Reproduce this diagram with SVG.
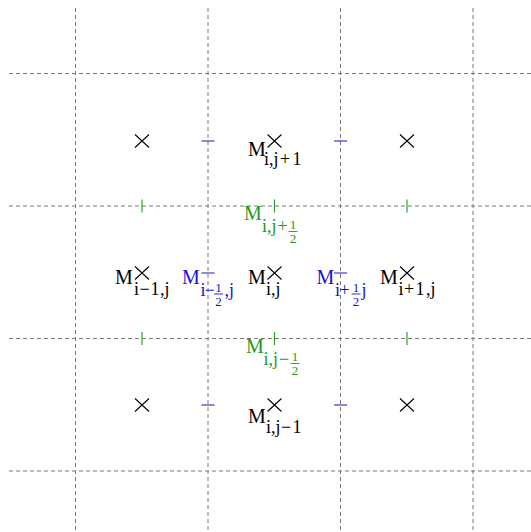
<svg xmlns="http://www.w3.org/2000/svg" width="531" height="532" viewBox="0 0 531 532">
<style>
.grid{stroke:#7a7a7a;stroke-width:1;stroke-dasharray:4 3;fill:none}
.cross{stroke:#000;stroke-width:1.1;fill:none}
.bt{stroke:#1515d0;stroke-width:1.1}
.gt{stroke:#229a22;stroke-width:1.1}
text{font-family:"Liberation Serif","Times New Roman",serif}
.m{font-size:20px}
.s{font-size:18px}
.f{font-size:13px;text-anchor:middle}
.k{fill:#000}
.b{fill:#1515d0}
.g{fill:#229a22}
.fb{stroke-width:0.9}
</style>
<rect width="531" height="532" fill="#fff"/>
<g id="connectors">
<g id="grid">
<line class="grid" x1="75.5" y1="8" x2="75.5" y2="532"/>
<line class="grid" x1="208" y1="8" x2="208" y2="532"/>
<line class="grid" x1="340.5" y1="8" x2="340.5" y2="532"/>
<line class="grid" x1="473" y1="8" x2="473" y2="532"/>
<line class="grid" x1="9" y1="73.5" x2="531" y2="73.5"/>
<line class="grid" x1="9" y1="206" x2="531" y2="206"/>
<line class="grid" x1="9" y1="338.5" x2="531" y2="338.5"/>
<line class="grid" x1="9" y1="471" x2="531" y2="471"/>
</g>
</g>
<g id="crosses">
<path class="cross" d="M135 134.5l14 13M149 134.5l-14 13"/>
<path class="cross" d="M267.5 134.5l14 13M281.5 134.5l-14 13"/>
<path class="cross" d="M400 134.5l14 13M414 134.5l-14 13"/>
<path class="cross" d="M135 266.5l14 13M149 266.5l-14 13"/>
<path class="cross" d="M267.5 266.5l14 13M281.5 266.5l-14 13"/>
<path class="cross" d="M400 266.5l14 13M414 266.5l-14 13"/>
<path class="cross" d="M135 398.5l14 13M149 398.5l-14 13"/>
<path class="cross" d="M267.5 398.5l14 13M281.5 398.5l-14 13"/>
<path class="cross" d="M400 398.5l14 13M414 398.5l-14 13"/>
</g>
<g id="blue-ticks">
<path class="bt" d="M201.5 141h13M334 141h13M201.5 273h13M334 273h13M201.5 405h13M334 405h13"/>
</g>
<g id="green-ticks">
<path class="gt" d="M142 199.5v13M274.5 199.5v13M407 199.5v13M142 332v13M274.5 332v13M407 332v13"/>
</g>
<g id="M_i_jp1">
<text class="m k" x="248" y="156">M</text>
<text class="s k" y="165"><tspan x="264">i,j</tspan><tspan x="280">+</tspan><tspan x="292.5">1</tspan></text>
</g>
<g id="M_im1_j">
<text class="m k" x="115" y="284">M</text>
<text class="s k" y="294.5"><tspan x="134">i</tspan><tspan x="139.5">−</tspan><tspan x="150.5">1</tspan><tspan x="160">,j</tspan></text>
</g>
<g id="M_i_j">
<text class="m k" x="248" y="284">M</text>
<text class="s k" x="266" y="294.5">i,j</text>
</g>
<g id="M_ip1_j">
<text class="m k" x="380" y="284">M</text>
<text class="s k" y="294.5"><tspan x="398.5">i</tspan><tspan x="404">+</tspan><tspan x="415.5">1</tspan><tspan x="426">,j</tspan></text>
</g>
<g id="M_i_jm1">
<text class="m k" x="248" y="423">M</text>
<text class="s k" y="432.5"><tspan x="266">i,j</tspan><tspan x="281">−</tspan><tspan x="292.5">1</tspan></text>
</g>
<g id="M_imh_j">
<text class="m b" x="182" y="284">M</text>
<text class="s b" y="296"><tspan x="200.5">i</tspan><tspan x="204.5">−</tspan><tspan x="224.5">,j</tspan></text>
<text class="f b" x="218.5" y="291.5">1</text>
<line class="bt fb" x1="214" y1="294" x2="223" y2="294"/>
<text class="f b" x="218.5" y="305.5">2</text>
</g>
<g id="M_iph_j">
<text class="m b" x="316.5" y="284">M</text>
<text class="s b" y="296"><tspan x="335">i</tspan><tspan x="339.5">+</tspan><tspan x="361.5">j</tspan></text>
<text class="f b" x="356" y="291.5">1</text>
<line class="bt fb" x1="351.5" y1="294" x2="360.5" y2="294"/>
<text class="f b" x="356" y="305.5">2</text>
</g>
<g id="M_i_jph">
<text class="m g" x="244" y="219.5">M</text>
<text class="s g" y="232"><tspan x="262">i,j</tspan><tspan x="277.5">+</tspan></text>
<text class="f g" x="293" y="229">1</text>
<line class="gt fb" x1="288.5" y1="231.5" x2="297.5" y2="231.5"/>
<text class="f g" x="293" y="243">2</text>
</g>
<g id="M_i_jmh">
<text class="m g" x="246" y="353">M</text>
<text class="s g" y="365"><tspan x="263.5">i,j</tspan><tspan x="279">−</tspan></text>
<text class="f g" x="295" y="361">1</text>
<line class="gt fb" x1="290.5" y1="363.5" x2="299.5" y2="363.5"/>
<text class="f g" x="295" y="375">2</text>
</g>
</svg>
